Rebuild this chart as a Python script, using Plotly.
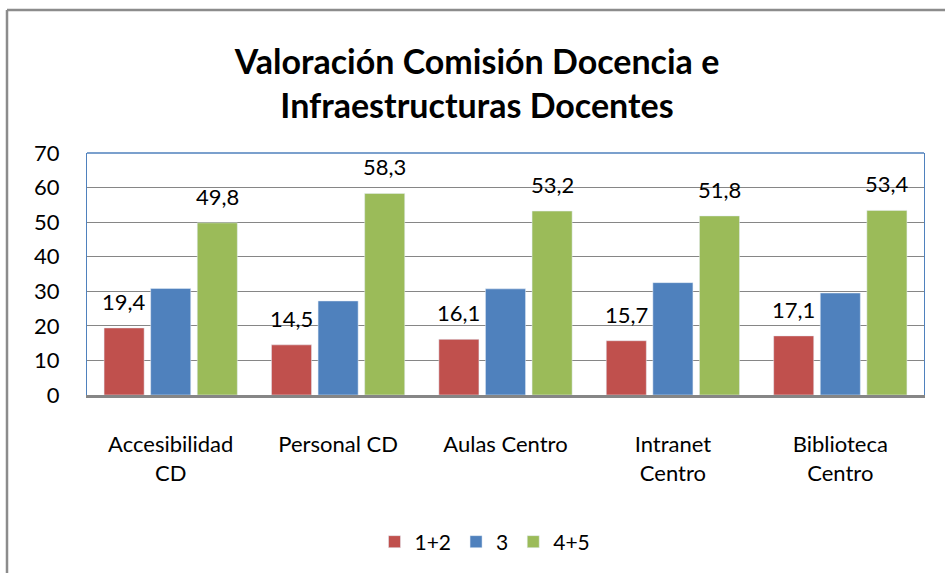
import plotly.graph_objects as go

categories = ["Accesibilidad<br>CD", "Personal CD", "Aulas Centro", "Intranet<br>Centro", "Biblioteca<br>Centro"]
series_names = ["1+2", "3", "4+5"]
vals_12 = [19.4, 14.5, 16.1, 15.7, 17.1]
vals_3 = [30.8, 27.2, 30.7, 32.5, 29.5]
vals_45 = [49.8, 58.3, 53.2, 51.8, 53.4]
y_ticks = [0, 10, 20, 30, 40, 50, 60, 70]

colors = ["#C0504D", "#4F81BD", "#9BBB59"]
FONT = "Lato, 'Open Sans', sans-serif"

L, R, T, B = 87, 21, 153, 178
W, H = 945, 573
pw, ph = W - L - R, H - T - B
BARGAP = 0.165
slot = pw / len(categories) * (1 - BARGAP) / 3

def px(x):
    return (x - L) / pw

def py(y):
    return (H - B - y) / ph

fig = go.Figure()
fig.add_trace(go.Bar(x=categories, y=vals_12, name=series_names[0], marker_color=colors[0]))
fig.add_trace(go.Bar(x=categories, y=vals_3, name=series_names[1], marker_color=colors[1]))
fig.add_trace(go.Bar(x=categories, y=vals_45, name=series_names[2], marker_color=colors[2]))

annotations = []
for vals, shift in ((vals_12, -slot), (vals_45, slot)):
    for c, v in zip(categories, vals):
        annotations.append(dict(x=c, y=v, xref="x", yref="y", text=f"{v:.1f}".replace(".", ","),
                                showarrow=False, xshift=shift, yshift=11, yanchor="bottom",
                                font=dict(size=22, color="black", family=FONT)))

fig.update_layout(
    width=W, height=H,
    margin=dict(l=L, r=R, t=T, b=B, autoexpand=False),
    paper_bgcolor="white", plot_bgcolor="white",
    separators=",.",
    barmode="group", bargap=BARGAP, bargroupgap=0.14,
    font=dict(family=FONT, size=22, color="black"),
    title=dict(text="<b>Valoración Comisión Docencia e<br>Infraestructuras Docentes</b>",
               x=px(477), xref="paper", xanchor="center",
               y=1 - 74 / H, yref="container", yanchor="middle", automargin=False,
               font=dict(size=34, family=FONT, color="black")),
    legend=dict(orientation="h", x=px(485), xanchor="center", y=py(542), yanchor="middle",
                font=dict(size=21, family=FONT), itemwidth=30, traceorder="normal"),
    xaxis=dict(showline=True, linecolor="#868686", linewidth=3, ticks="", automargin=False,
               tickfont=dict(size=22), ticklabelstandoff=28),
    yaxis=dict(range=[0, 70], tickvals=y_ticks, showgrid=True, gridcolor="#868686", gridwidth=1,
               showline=True, linecolor="#4F81BD", linewidth=1, mirror=True, zeroline=False,
               automargin=False, tickfont=dict(size=22), ticklabelstandoff=22),
    annotations=annotations,
    shapes=[
        dict(type="line", xref="paper", yref="paper", x0=0, x1=1, y0=1, y1=1,
             line=dict(color="#4F81BD", width=1.5)),
        dict(type="line", xref="paper", yref="paper", x0=px(7), x1=px(946), y0=py(10), y1=py(10),
             line=dict(color="#8C8C8C", width=2.5)),
        dict(type="line", xref="paper", yref="paper", x0=px(7), x1=px(7), y0=py(10), y1=py(574),
             line=dict(color="#8C8C8C", width=2.5)),
    ],
)

fig.write_html("out.html", config={"displayModeBar": False},
               post_script="document.body.style.margin='0';document.body.style.padding='0';")
